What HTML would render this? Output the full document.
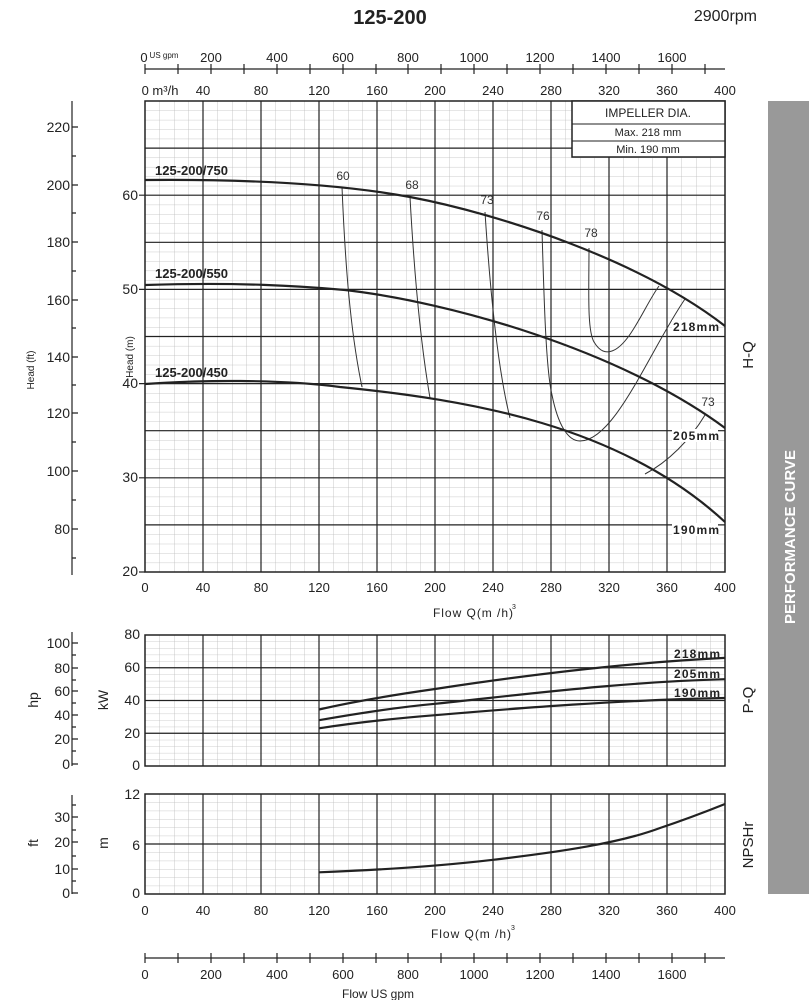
<!DOCTYPE html>
<html><head><meta charset="utf-8"><style>
html,body{margin:0;padding:0;background:#fff;}
svg{display:block;font-family:"Liberation Sans",sans-serif;}
</style></head><body>
<svg width="809" height="1000" viewBox="0 0 809 1000" xmlns="http://www.w3.org/2000/svg">
<defs>
<pattern id="gm" x="145" y="101" width="14.5" height="9.42" patternUnits="userSpaceOnUse">
<path d="M0,0V9.42M0,0H14.5" stroke="#bbb" stroke-width="0.8" fill="none"/></pattern>
<pattern id="gp" x="145" y="635" width="14.5" height="6.55" patternUnits="userSpaceOnUse">
<path d="M0,0V6.55M0,0H14.5" stroke="#bbb" stroke-width="0.8" fill="none"/></pattern>
<pattern id="gn" x="145" y="794" width="14.5" height="8.333" patternUnits="userSpaceOnUse">
<path d="M0,0V8.333M0,0H14.5" stroke="#bbb" stroke-width="0.8" fill="none"/></pattern>
</defs>
<rect width="809" height="1000" fill="#fff"/>
<text x="390" y="24" font-size="20" font-weight="bold" text-anchor="middle" fill="#222">125-200</text>
<text x="757" y="21" font-size="16" text-anchor="end" fill="#222">2900rpm</text>

<!-- top gpm axis -->
<g stroke="#222" stroke-width="1.2">
<line x1="145" y1="69" x2="725" y2="69"/>
<path d="M145,64V74M178,64V74M211,64V74M244,64V74M277,64V74M310,64V74M343,64V74M376,64V74M408,64V74M441,64V74M474,64V74M507,64V74M540,64V74M573,64V74M606,64V74M639,64V74M672,64V74M705,64V74"/>
</g>
<g font-size="13" fill="#222" text-anchor="middle">
<text x="144" y="62">0</text><text x="164" y="58" font-size="8">US gpm</text>
<text x="211" y="62">200</text><text x="277" y="62">400</text><text x="343" y="62">600</text><text x="408" y="62">800</text><text x="474" y="62">1000</text><text x="540" y="62">1200</text><text x="606" y="62">1400</text><text x="672" y="62">1600</text>
<text x="160" y="95">0 m³/h</text><text x="203" y="95">40</text><text x="261" y="95">80</text><text x="319" y="95">120</text><text x="377" y="95">160</text><text x="435" y="95">200</text><text x="493" y="95">240</text><text x="551" y="95">280</text><text x="609" y="95">320</text><text x="667" y="95">360</text><text x="725" y="95">400</text>
</g>

<!-- main chart -->
<rect x="145" y="101" width="580" height="471" fill="url(#gm)"/>
<g stroke="#222" stroke-width="1.2">
<path d="M203,101V572M261,101V572M319,101V572M377,101V572M435,101V572M493,101V572M551,101V572M609,101V572M667,101V572"/>
<path d="M145,524.9H725M145,477.8H725M145,430.7H725M145,383.6H725M145,336.5H725M145,289.4H725M145,242.3H725M145,195.2H725M145,148.1H725"/>
<rect x="145" y="101" width="580" height="471" fill="none" stroke-width="1.5"/>
</g>
<g stroke="#222" stroke-width="1.5" fill="#fff">
<rect x="572" y="101" width="153" height="56"/>
<path d="M572,124H725M572,141H725" fill="none" stroke-width="1"/>
</g>
<g font-size="11" fill="#222" text-anchor="middle">
<text x="648" y="117" font-size="12">IMPELLER DIA.</text>
<text x="648" y="136">Max.  218  mm</text>
<text x="648" y="153">Min.   190  mm</text>
</g>

<!-- efficiency lines -->
<g stroke="#333" stroke-width="1" fill="none">
<path d="M342,187 C345,260 350,330 362,387"/>
<path d="M410,197 C414,270 420,340 430,398"/>
<path d="M485,212 C490,290 498,370 510,418"/>
<path d="M542,230 C544,300 546,370 552,395 C558,425 568,441 580,441 C615,441 650,350 685,299"/>
<path d="M589,248 C589,290 587,330 594,342 C600,352 606,353 612,351 C630,345 645,305 659,286"/>
<path d="M645,474 C668,462 690,440 705,415"/>
</g>
<!-- label backgrounds -->
<g fill="#fff">
<rect x="672" y="320" width="46" height="13"/>
<rect x="672" y="429" width="46" height="13"/>
<rect x="672" y="523" width="46" height="13"/>
</g>
<!-- H-Q curves -->
<g stroke="#222" stroke-width="2.2" fill="none">
<path d="M145,180 C250,179 340,184 410,197 C500,214 640,260 725,326"/>
<path d="M145,285 C240,282 300,286 345,290 C450,302 620,350 725,428"/>
<path d="M145,384 C200,380 280,379 340,387 C470,400 620,425 725,522"/>
</g>
<g font-size="12" fill="#333" text-anchor="middle">
<text x="343" y="180">60</text><text x="412" y="189">68</text><text x="487" y="204">73</text><text x="543" y="220">76</text><text x="591" y="237">78</text><text x="708" y="406">73</text>
</g>
<g font-size="13" font-weight="bold" fill="#222">
<text x="155" y="175">125-200/750</text>
<text x="155" y="278">125-200/550</text>
<text x="155" y="377">125-200/450</text>
</g>
<g font-size="12" font-weight="bold" fill="#222" text-anchor="end">
<text x="719" y="331" textLength="46">218mm</text>
<text x="719" y="440" textLength="46">205mm</text>
<text x="719" y="534" textLength="46">190mm</text>
</g>
<!-- left axes main -->
<g stroke="#222" stroke-width="1.2">
<line x1="72" y1="101" x2="72" y2="575"/>
<path d="M72,127h6M72,156h4M72,185h6M72,213h4M72,242h6M72,271h4M72,300h6M72,328h4M72,357h6M72,385h4M72,413h6M72,442h4M72,471h6M72,500h4M72,529h6M72,558h4"/>
<path d="M139,195.2h6M139,289.4h6M139,383.6h6M139,477.8h6M139,572h6"/>
</g>
<g font-size="14" fill="#222" text-anchor="end">
<text x="70" y="132">220</text><text x="70" y="190">200</text><text x="70" y="247">180</text><text x="70" y="305">160</text><text x="70" y="362">140</text><text x="70" y="418">120</text><text x="70" y="476">100</text><text x="70" y="534">80</text>
<text x="138" y="200">60</text><text x="138" y="294">50</text><text x="138" y="388">40</text><text x="138" y="482">30</text><text x="138" y="576">20</text>
</g>
<text transform="translate(34,370) rotate(-90)" font-size="10" text-anchor="middle" fill="#222">Head (ft)</text>
<text transform="translate(133,357) rotate(-90)" font-size="10" text-anchor="middle" fill="#222">Head (m)</text>
<g font-size="13" fill="#222" text-anchor="middle">
<text x="145" y="592">0</text><text x="203" y="592">40</text><text x="261" y="592">80</text><text x="319" y="592">120</text><text x="377" y="592">160</text><text x="435" y="592">200</text><text x="493" y="592">240</text><text x="551" y="592">280</text><text x="609" y="592">320</text><text x="667" y="592">360</text><text x="725" y="592">400</text>
</g>
<text x="433" y="617" font-size="12" fill="#222" textLength="80">Flow  Q(m /h)</text><text x="512" y="609" font-size="7" fill="#222">3</text>

<!-- P-Q chart -->
<rect x="145" y="635" width="580" height="131" fill="url(#gp)"/>
<g stroke="#222" stroke-width="1.2">
<path d="M203,635V766M261,635V766M319,635V766M377,635V766M435,635V766M493,635V766M551,635V766M609,635V766M667,635V766"/>
<path d="M145,733.25H725M145,700.5H725M145,667.75H725"/>
<rect x="145" y="635" width="580" height="131" fill="none" stroke-width="1.5"/>
<line x1="72" y1="632" x2="72" y2="766"/>
<path d="M72,643h6M72,655h4M72,668h6M72,680h4M72,691h6M72,703h4M72,715h6M72,727h4M72,739h6M72,751h4M72,764h6"/>
</g>
<g stroke="#222" stroke-width="2.2" fill="none" stroke-linejoin="round">
<path d="M319,709.5 C360,700 400,694 435,689 C520,676 620,663 725,657.9"/>
<path d="M319,720.2 C360,713 400,707 435,703.8 C520,695 620,682 725,679.2"/>
<path d="M319,728.3 C360,722 400,718 435,715.2 C520,708 620,700 725,698"/>
</g>
<g font-size="12" font-weight="bold" fill="#222" text-anchor="end">
<text x="720" y="658" textLength="46">218mm</text><text x="720" y="678" textLength="46">205mm</text><text x="720" y="697" textLength="46">190mm</text>
</g>
<g font-size="14" fill="#222" text-anchor="end">
<text x="70" y="648">100</text><text x="70" y="673">80</text><text x="70" y="696">60</text><text x="70" y="720">40</text><text x="70" y="744">20</text><text x="70" y="769">0</text>
<text x="140" y="639">80</text><text x="140" y="672">60</text><text x="140" y="705">40</text><text x="140" y="738">20</text><text x="140" y="770">0</text>
</g>
<text transform="translate(38,700) rotate(-90)" font-size="14" text-anchor="middle" fill="#222">hp</text>
<text transform="translate(108,700) rotate(-90)" font-size="14" text-anchor="middle" fill="#222">kW</text>

<!-- NPSH chart -->
<rect x="145" y="794" width="580" height="100" fill="url(#gn)"/>
<g stroke="#222" stroke-width="1.2">
<path d="M203,794V894M261,794V894M319,794V894M377,794V894M435,794V894M493,794V894M551,794V894M609,794V894M667,794V894"/>
<path d="M145,844H725"/>
<rect x="145" y="794" width="580" height="100" fill="none" stroke-width="1.5"/>
<line x1="72" y1="795" x2="72" y2="894"/>
<path d="M72,805h4M72,817h6M72,830h4M72,842h6M72,856h4M72,869h6M72,881h4M72,893h6"/>
</g>
<path d="M319,872.3 C380,870 440,866 493,859.8 C560,852 620,843 660,828 C690,818 710,810 725,804" stroke="#222" stroke-width="2.2" fill="none"/>
<g font-size="14" fill="#222" text-anchor="end">
<text x="70" y="822">30</text><text x="70" y="847">20</text><text x="70" y="874">10</text><text x="70" y="898">0</text>
<text x="140" y="799">12</text><text x="140" y="850">6</text><text x="140" y="898">0</text>
</g>
<text transform="translate(38,843) rotate(-90)" font-size="14" text-anchor="middle" fill="#222">ft</text>
<text transform="translate(108,843) rotate(-90)" font-size="14" text-anchor="middle" fill="#222">m</text>
<g font-size="13" fill="#222" text-anchor="middle">
<text x="145" y="915">0</text><text x="203" y="915">40</text><text x="261" y="915">80</text><text x="319" y="915">120</text><text x="377" y="915">160</text><text x="435" y="915">200</text><text x="493" y="915">240</text><text x="551" y="915">280</text><text x="609" y="915">320</text><text x="667" y="915">360</text><text x="725" y="915">400</text>
</g>
<text x="431" y="938" font-size="12" fill="#222" textLength="80">Flow  Q(m /h)</text><text x="511" y="930" font-size="7" fill="#222">3</text>
<!-- bottom gpm axis -->
<g stroke="#222" stroke-width="1.2">
<line x1="145" y1="958" x2="725" y2="958"/>
<path d="M145,953V963M178,953V963M211,953V963M244,953V963M277,953V963M310,953V963M343,953V963M376,953V963M408,953V963M441,953V963M474,953V963M507,953V963M540,953V963M573,953V963M606,953V963M639,953V963M672,953V963M705,953V963"/>
</g>
<g font-size="13" fill="#222" text-anchor="middle">
<text x="145" y="979">0</text><text x="211" y="979">200</text><text x="277" y="979">400</text><text x="343" y="979">600</text><text x="408" y="979">800</text><text x="474" y="979">1000</text><text x="540" y="979">1200</text><text x="606" y="979">1400</text><text x="672" y="979">1600</text>
<text x="378" y="998" font-size="12">Flow  US gpm</text>
</g>

<!-- right side labels -->
<text transform="translate(753,355) rotate(-90)" font-size="15" text-anchor="middle" fill="#222">H-Q</text>
<text transform="translate(753,700) rotate(-90)" font-size="15" text-anchor="middle" fill="#222">P-Q</text>
<text transform="translate(753,845) rotate(-90)" font-size="15" text-anchor="middle" fill="#222">NPSHr</text>
<rect x="768" y="101" width="41" height="793" fill="#999"/>
<text transform="translate(795,537) rotate(-90)" font-size="15" font-weight="bold" text-anchor="middle" fill="#fff">PERFORMANCE CURVE</text>
</svg>
</body></html>
